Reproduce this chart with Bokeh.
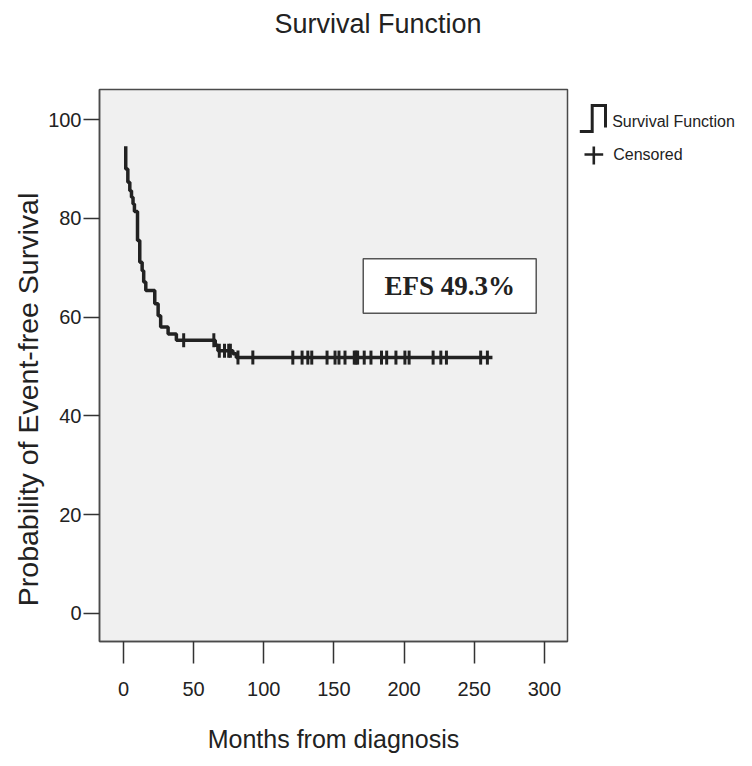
import numpy as np
from bokeh.plotting import figure
from bokeh.layouts import row
from bokeh.models import Range1d, FixedTicker, Label, BoxAnnotation, LinearAxis
from bokeh.embed import file_html
from bokeh.resources import INLINE

# Kaplan-Meier estimate: months from diagnosis and % event-free after each drop
step_months = [1.6, 1.6, 3.1, 4.5, 5.7, 6.8, 7.8, 10.0, 11.6, 13.3, 14.4, 15.9,
               22.3, 24.7, 26.5, 31.8, 37.7, 65.4, 67.3, 78.0, 80.4, 263.0]
step_surv = [94.6, 90.0, 87.3, 85.6, 84.3, 82.9, 81.4, 75.5, 71.1, 69.4, 67.1, 65.4,
             62.7, 60.3, 58.0, 56.6, 55.3, 54.3, 53.2, 52.6, 51.8, 51.8]

# censored follow-up times (months)
censored_months = [42.9, 64.4, 68.3, 72.0, 75.0, 76.2, 81.6, 92.2, 120.7, 127.3,
                   131.4, 134.2, 145.1, 150.8, 153.6, 157.9, 164.5, 165.7, 166.9,
                   171.6, 176.4, 183.9, 187.6, 194.2, 200.6, 203.6, 220.7, 226.2,
                   230.2, 254.6, 259.4]

x_ticks = [0, 50, 100, 150, 200, 250, 300]
y_ticks = [0, 20, 40, 60, 80, 100]
title_text = "Survival Function"
x_label = "Months from diagnosis"
y_label = "Probability of Event-free Survival"
efs_text = "EFS 49.3%"
legend_labels = ["Survival Function", "Censored"]

INK = "#222222"
FONT = "Liberation Sans"
H = 766
TOP, BOTTOM = 89, 125

# survival level at each censored time
idx = np.searchsorted(np.array(step_months), np.array(censored_months), side="right") - 1
censored_surv = [step_surv[i] for i in idx]


def side_panel(width, y_range):
    """Blank figure whose frame shares the plot's top and bottom edges."""
    f = figure(width=width, height=H, x_range=Range1d(0, width), y_range=y_range,
               output_backend="svg", toolbar_location=None,
               x_axis_type=None, y_axis_type=None,
               min_border_left=0, min_border_right=0,
               min_border_top=TOP, min_border_bottom=BOTTOM)
    f.outline_line_color = None
    f.grid.visible = False
    f.background_fill_color = "white"
    f.border_fill_color = "white"
    return f


# main plot
p = figure(width=530, height=H,
           x_range=Range1d(-17.1, 316.5), y_range=Range1d(-5.7, 106.1),
           output_backend="svg", toolbar_location=None,
           min_border_left=53, min_border_right=8,
           min_border_top=TOP, min_border_bottom=BOTTOM)

p.background_fill_color = "#f0f0f0"
p.border_fill_color = "white"
p.outline_line_color = "#4a4a4a"
p.outline_line_width = 1.5
p.grid.visible = False

xax = p.below[0]
yax = p.left[0]

# blank axis above the frame: a single hidden tick that keeps the title clear
gap = LinearAxis(ticker=FixedTicker(ticks=[150]), major_label_overrides={150: " "},
                 axis_line_color=None, major_tick_out=36, major_tick_in=0,
                 minor_tick_out=0, minor_tick_in=0, major_tick_line_color=None,
                 minor_tick_line_color=None, major_label_standoff=0)
p.add_layout(gap, "above")

p.title.text = title_text
p.title.align = "left"
p.title.offset = 175
p.title.vertical_align = "bottom"
p.title.standoff = 0
p.title.text_font = FONT
p.title.text_font_style = "normal"
p.title.text_font_size = "27px"
p.title.text_color = INK

xax.ticker = FixedTicker(ticks=x_ticks)
yax.ticker = FixedTicker(ticks=y_ticks)
for ax in (xax, yax):
    ax.major_tick_in = 0
    ax.minor_tick_in = 0
    ax.minor_tick_out = 0
    ax.major_tick_line_color = "#333333"
    ax.major_tick_line_width = 1.5
    ax.axis_line_color = "#4a4a4a"
    ax.axis_line_width = 1.5
    ax.major_label_text_font = FONT
    ax.major_label_text_font_size = "20px"
    ax.major_label_text_color = INK
    ax.axis_label_text_font = FONT
    ax.axis_label_text_font_style = "normal"
    ax.axis_label_text_color = INK

xax.major_tick_out = 22
xax.major_label_standoff = 18
xax.axis_label = x_label
xax.axis_label_text_font_size = "25px"
xax.axis_label_standoff = 26
yax.major_tick_out = 16
yax.major_label_standoff = 2

p.step(step_months, step_surv, mode="after", line_width=3.5, line_color=INK)
p.scatter(censored_months, censored_surv, marker="dash", angle=np.pi / 2,
          size=14, line_width=3, line_color=INK)

box = BoxAnnotation(left=170.9, right=294.2, bottom=60.8, top=71.8,
                    fill_color="white", fill_alpha=1.0,
                    line_color="#555555", line_alpha=1.0, line_width=1.5)
p.add_layout(box)
p.add_layout(Label(x=(170.9 + 294.2) / 2, y=66.3, text=efs_text,
                   text_font="Liberation Serif", text_font_style="bold",
                   text_font_size="27px", text_color=INK,
                   text_align="center", text_baseline="middle"))

# vertical axis title, in a narrow strip left of the plot (y = height - page px)
ytitle = side_panel(45, Range1d(BOTTOM, H - TOP))
ytitle.text(x=[27], y=[H - 399], text=[y_label], angle=np.pi / 2,
            text_font={"value": FONT}, text_font_size={"value": "28.5px"},
            text_color=INK, text_align="center", text_baseline="middle")

# legend strip right of the plot (y runs in page pixels, downwards)
lg = side_panel(177, Range1d(H - BOTTOM, TOP))
lg.line([4.3, 16.7, 16.7, 30.0, 30.0], [131, 131, 105, 105, 127],
        line_width=3, line_color=INK, line_join="miter")
lg.segment(x0=[9.0, 18.3], y0=[154, 146], x1=[27.7, 18.3], y1=[154, 164],
           line_width=2.6, line_color=INK)
lg.text(x=[36.7, 37.7], y=[120.7, 154.3], text=legend_labels,
        text_font={"value": FONT}, text_font_size={"value": "16px"},
        text_color=INK, text_baseline="middle", text_align="left")

layout = row(ytitle, p, lg, spacing=0)
open("out.html", "w").write(file_html(layout, INLINE))
